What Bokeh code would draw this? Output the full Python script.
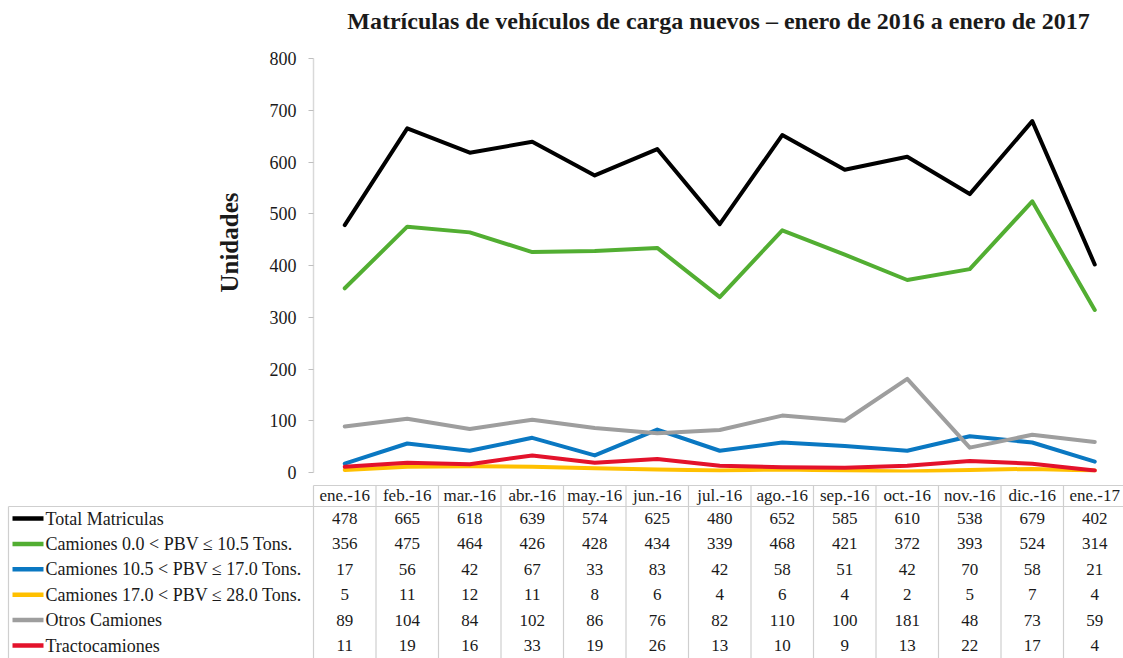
from bokeh.plotting import figure
from bokeh.models import Range1d, FixedTicker, Title
from bokeh.layouts import column
from bokeh.core.properties import value
from bokeh.embed import file_html
from bokeh.resources import INLINE

# ---------------- data ----------------
months = ["ene.-16", "feb.-16", "mar.-16", "abr.-16", "may.-16", "jun.-16", "jul.-16",
          "ago.-16", "sep.-16", "oct.-16", "nov.-16", "dic.-16", "ene.-17"]
series_names = ["Total Matriculas",
                "Camiones 0.0 < PBV \u2264 10.5 Tons.",
                "Camiones 10.5 < PBV \u2264 17.0 Tons.",
                "Camiones 17.0 < PBV \u2264 28.0 Tons.",
                "Otros Camiones",
                "Tractocamiones"]
total = [478, 665, 618, 639, 574, 625, 480, 652, 585, 610, 538, 679, 402]
cam_0_105 = [356, 475, 464, 426, 428, 434, 339, 468, 421, 372, 393, 524, 314]
cam_105_170 = [17, 56, 42, 67, 33, 83, 42, 58, 51, 42, 70, 58, 21]
cam_170_280 = [5, 11, 12, 11, 8, 6, 4, 6, 4, 2, 5, 7, 4]
otros = [89, 104, 84, 102, 86, 76, 82, 110, 100, 181, 48, 73, 59]
tracto = [11, 19, 16, 33, 19, 26, 13, 10, 9, 13, 22, 17, 4]
y_ticks = [0, 100, 200, 300, 400, 500, 600, 700, 800]

title_text = "Matr\u00edculas de veh\u00edculos de carga nuevos \u2013 enero de 2016 a enero de 2017"
y_label = "Unidades"

series = [total, cam_0_105, cam_105_170, cam_170_280, otros, tracto]
colors = ["#000000", "#52ae32", "#0a78c2", "#ffc000", "#9e9e9e", "#e3122b"]

# ---------------- layout constants ----------------
FONT = "Liberation Serif"
TXT = "#1a1a1a"
W = 1123
LEFT = 313          # frame left offset (px)
COL = 62.5          # column width (px)
X_END = (W - LEFT) / COL

centers = [i + 0.5 for i in range(len(months))]

# ---------------- chart ----------------
p = figure(width=W, height=482, x_range=Range1d(0, X_END), y_range=Range1d(y_ticks[0], y_ticks[-1]),
           output_backend="svg", toolbar_location=None, x_axis_location=None,
           min_border_left=LEFT, min_border_right=0, min_border_top=58, min_border_bottom=10,
           title=None)
p.outline_line_color = None
p.background_fill_color = "white"
p.border_fill_color = "white"

# spacer between chart title and plot area, then the title itself
p.add_layout(Title(text=" ", text_font_size="2px", standoff=21), "above")
p.add_layout(Title(text=title_text, text_font=FONT, text_font_size="24px", text_font_style="bold",
                   text_color=TXT, align="center", standoff=0), "above")

ax = p.yaxis[0]
ax.ticker = FixedTicker(ticks=y_ticks)
ax.major_label_text_font = FONT
ax.major_label_text_font_size = "18px"
ax.major_label_text_color = TXT
ax.axis_line_color = "#d9d9d9"
ax.axis_line_width = 1.5
ax.major_tick_line_color = "#bfbfbf"
ax.major_tick_out = 5
ax.major_tick_in = 0
ax.minor_tick_line_color = None
ax.major_label_standoff = 12

# y-axis label (placed as a side title so that it can sit where the reference has it)
p.add_layout(Title(text=y_label, text_font=FONT, text_font_size="25px", text_font_style="bold",
                   text_color=TXT, align="right", offset=134, standoff=48), "left")

p.xgrid.visible = False
p.ygrid.ticker = FixedTicker(ticks=[y_ticks[0], y_ticks[-1]])
p.ygrid.grid_line_color = "#d9d9d9"
p.ygrid.grid_line_width = 1.5

for vals, c in zip(series, colors):
    p.line(centers, vals, line_color=c, line_width=4, line_join="round", line_cap="round")

# ---------------- data table ----------------
PITCH = 25.4        # row pitch (px)
ROW0 = 10.6         # px from figure top to y=0
H2 = 176
y_top = -ROW0 / PITCH
y_bot = (H2 - ROW0) / PITCH
x_start = -LEFT / COL


def px_x(px):
    """horizontal offset (from figure left, px) -> data x"""
    return (px - LEFT) / COL


def px_y(px):
    """vertical offset (from table top, px) -> row units"""
    return (px - ROW0) / PITCH


t = figure(width=W, height=H2, x_range=Range1d(x_start, X_END), y_range=Range1d(y_bot, y_top),
           output_backend="svg", toolbar_location=None, x_axis_location=None, y_axis_location=None,
           min_border_left=0, min_border_right=0, min_border_top=0, min_border_bottom=0)
t.outline_line_color = None
t.grid.visible = False
t.background_fill_color = "white"
t.border_fill_color = "white"

for fig in (p, t):
    try:
        fig.frame_align = False
    except Exception:
        pass

n = len(months)
rows = [k + 1 for k in range(len(series_names))]
hdr_y = px_y(13)
hdr_top = px_y(3)
hdr_bot = px_y(24)
GRID = "#cfcfcf"

# header box top
t.segment(x0=[0], y0=[hdr_top], x1=[n], y1=[hdr_top], line_color=GRID, line_width=1.2)
# line below header (spanning legend area too)
t.segment(x0=[px_x(8)], y0=[hdr_bot], x1=[n], y1=[hdr_bot], line_color=GRID, line_width=1.2)
# column separators
t.segment(x0=list(range(n + 1)), y0=[hdr_top] * (n + 1), x1=list(range(n + 1)), y1=[y_bot] * (n + 1),
          line_color=GRID, line_width=1.2)
# left border of legend area
t.segment(x0=[px_x(8)], y0=[hdr_bot], x1=[px_x(8)], y1=[y_bot], line_color=GRID, line_width=1.2)

# header labels
t.text(x=centers, y=[hdr_y] * n, text=months, text_align="center", text_baseline="middle",
       text_font=value(FONT), text_font_size="17px", text_color=TXT)

# legend keys and names
t.segment(x0=[px_x(12)] * len(rows), y0=rows, x1=[px_x(43)] * len(rows), y1=rows,
          line_color=colors, line_width=4.5)
t.text(x=[px_x(45)] * len(rows), y=rows, text=series_names, text_align="left", text_baseline="middle",
       text_font=value(FONT), text_font_size="18px", text_color=TXT)

# values
xs, ys, txt = [], [], []
for k, vals in zip(rows, series):
    for c, v in zip(centers, vals):
        xs.append(c)
        ys.append(k)
        txt.append(str(v))
t.text(x=xs, y=ys, text=txt, text_align="center", text_baseline="middle",
       text_font=value(FONT), text_font_size="17px", text_color=TXT)

layout = column(p, t, spacing=0)
open("out.html", "w").write(file_html(layout, INLINE))
